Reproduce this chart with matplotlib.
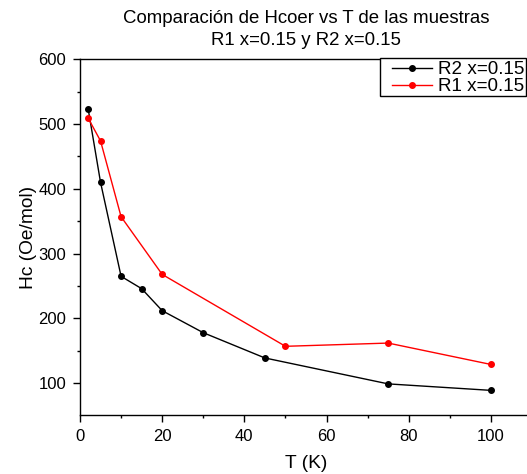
import numpy as np
import matplotlib
matplotlib.use("Agg")
import matplotlib.pyplot as plt
from matplotlib.ticker import MultipleLocator
from matplotlib.patches import Rectangle

plt.rcParams['font.family'] = ['Liberation Sans', 'DejaVu Sans']

# coercive field vs temperature for both samples
tR2 = [2, 5, 10, 15, 20, 30, 45, 75, 100]
hcR2 = [523, 410, 265, 246, 212, 178, 139, 99, 89]

tR1 = [2, 5, 10, 20, 50, 75, 100]
hcR1 = [509, 474, 357, 268, 157, 162, 129]

W, H = 527, 474
fig = plt.figure(figsize=(W / 100, H / 100), dpi=100)
ax = fig.add_axes([0.1518, 0.1245, 0.8577, 0.7504])

ax.plot(tR2, hcR2, color="black", lw=1.0, marker="o", ms=4, label="R2 x=0.15")
ax.plot(tR1, hcR1, color="red", lw=1.0, marker="o", ms=4, label="R1 x=0.15")

ax.set_xlim(0, 110)
ax.set_ylim(51, 600)
ax.xaxis.set_major_locator(MultipleLocator(20))
ax.xaxis.set_minor_locator(MultipleLocator(10))
ax.yaxis.set_major_locator(MultipleLocator(100))
ax.yaxis.set_minor_locator(MultipleLocator(50))
ax.tick_params(which="major", length=5, width=1, labelsize=12, direction="out", pad=5)
ax.tick_params(which="minor", length=2.5, width=1, direction="out")
for s in ax.spines.values():
    s.set_linewidth(1.0)

ax.set_xlabel("T (K)", fontsize=13.8, labelpad=8)
ax.set_ylabel("Hc (Oe/mol)", fontsize=13.8, labelpad=1)
ax.set_title("Comparación de Hcoer vs T de las muestras\nR1 x=0.15 y R2 x=0.15",
             fontsize=13.4, pad=10, linespacing=1.45)

# legend box drawn by hand so it can have a wider left margin
box = Rectangle((380 / W, 1 - 96 / H), 146 / W, 38 / H, transform=fig.transFigure,
                facecolor="white", edgecolor="black", lw=1.0, zorder=4, clip_on=False)
ax.add_patch(box)
leg = ax.legend(loc="upper right", bbox_to_anchor=(526 / W, 1 - 59 / H),
                bbox_transform=fig.transFigure, borderaxespad=0, fontsize=13.6,
                frameon=False, handlelength=2.1, handletextpad=0.3,
                borderpad=0.1, labelspacing=0.0)
leg.set_zorder(5)

fig.savefig("out.png", dpi=100)
